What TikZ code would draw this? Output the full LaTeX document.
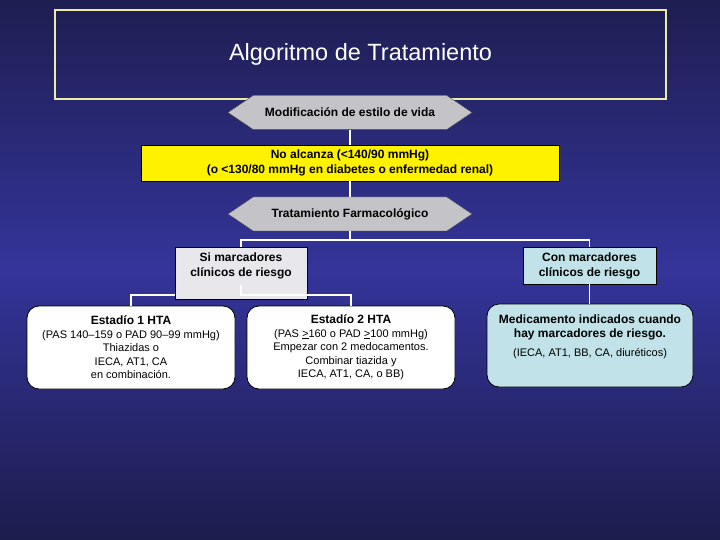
\documentclass[tikz,border=0pt]{standalone}
\usepackage{fontspec}
\setmainfont{Liberation Sans}
\usetikzlibrary{shapes.symbols}

\definecolor{bgtop}{RGB}{30,30,82}
\definecolor{bgmid}{RGB}{52,52,154}
\definecolor{bgbot}{RGB}{28,28,76}
\definecolor{framecol}{RGB}{236,236,168}
\definecolor{hexgray}{RGB}{196,196,200}
\definecolor{boxgray}{RGB}{232,232,236}
\definecolor{boxcyan}{RGB}{192,226,232}

\begin{document}
\begin{tikzpicture}[x=1pt, y=-1pt,
    conn/.style={white, line width=1.8pt},
    hexbox/.style={signal, signal to=west and east, signal pointer angle=68,
        fill=hexgray, draw=black!70, minimum width=244pt, minimum height=34pt,
        inner sep=0pt, font=\bfseries\fontsize{12}{15}\selectfont},
    flatbox/.style={draw=black, line width=0.8pt, inner sep=0pt, align=center,
        font=\bfseries\fontsize{12}{15}\selectfont},
    roundbox/.style={draw=black, line width=0.8pt, rounded corners=12pt, inner sep=0pt,
        fill=white, minimum width=208pt, minimum height=83pt, align=center,
        font=\fontsize{11}{13.5}\selectfont}]
  % background
  \shade[top color=bgtop, bottom color=bgmid] (0,0) rectangle (720,270);
  \shade[top color=bgmid, bottom color=bgbot] (0,270) rectangle (720,540);
  \useasboundingbox (0,0) rectangle (720,540);

  \node[draw=framecol, line width=1.4pt, minimum width=611pt, minimum height=89pt,
        font=\fontsize{23.5}{28}\selectfont, text=white] (title) at (360.5,54.5) {Algoritmo de Tratamiento};

  \node[hexbox] (estilo) at (350,112.5) {Modificación de estilo de vida};
  \node[flatbox, fill=yellow, minimum width=418pt, minimum height=36pt] (meta) at (350,163)
    {No alcanza (<140/90 mmHg)\\(o <130/80 mmHg en diabetes o enfermedad renal)};
  \node[hexbox] (farmaco) at (350,214) {Tratamiento Farmacológico};

  % marcadores
  \node[flatbox, fill=boxgray, minimum width=132pt, minimum height=52pt] (sin) at (241,273) {};
  \node[flatbox, draw=none, anchor=north] (sintxt) at (241,252.5) {Si marcadores\\clínicos de riesgo};
  \node[flatbox, fill=boxcyan, minimum width=133pt, minimum height=37pt] (con) at (589.5,265.5)
    {Con marcadores\\clínicos de riesgo};

  % estadios
  \node[roundbox] (estadio1) at (131,347.5)
    {{\bfseries\fontsize{12}{14}\selectfont Estadío 1 HTA}\\(PAS 140--159 o PAD 90--99 mmHg)\\Thiazidas o\\IECA, AT1, CA\\en combinación.};
  \node[roundbox] (estadio2) at (351,347.5)
    {{\bfseries\fontsize{12}{14}\selectfont Estadío 2 HTA}\\(PAS \underline{>}160 o PAD \underline{>}100 mmHg)\\Empezar con 2 medocamentos.\\Combinar tiazida y\\IECA,  AT1, CA, o BB)};
  \node[roundbox, fill=boxcyan, minimum width=206pt] (riesgo) at (590,345.5) {};
  \node[flatbox, draw=none, anchor=north, font=\bfseries\fontsize{12}{14}\selectfont] (riesgotxt) at (590,314.5)
    {Medicamento indicados cuando\\hay marcadores de riesgo.\\[5pt]
     \mdseries\fontsize{11}{13}\selectfont (IECA, AT1, BB, CA, diuréticos)};

  \coordinate (split) at (350,240);
  \coordinate (fork) at (241,295);
  \coordinate (sinout) at (241,285);
  \draw[conn] (estilo.south) -- (meta.north);
  \draw[conn] (meta.south) -- (farmaco.north);
  \draw[conn] (farmaco.south) -- (split) -| (sin.north);
  \draw[conn] (split) -| (con.north);
  \draw[conn] (sin.west |- fork) -| (estadio1.north);
  \draw[conn] (sinout) -- (fork) -| (estadio2.north);
  \draw[conn] (con.south) -- (con.south |- riesgo.north);
\end{tikzpicture}
\end{document}
